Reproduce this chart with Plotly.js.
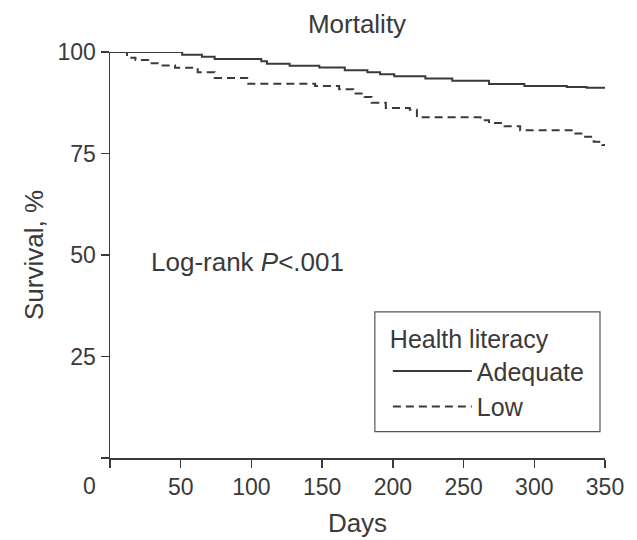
<!DOCTYPE html>
<html>
<head>
<meta charset="utf-8">
<script src="https://cdn.plot.ly/plotly-3.0.1.min.js"></script>
<style>html,body{margin:0;padding:0;background:#fff;}#chart{width:637px;height:540px;}</style>
</head>
<body>
<div id="chart"></div>
<script>
// Data (Kaplan-Meier step curves)
const adequateDays = [0, 51, 65, 74, 107, 111, 127, 148, 166, 182, 191, 201, 223, 242, 268, 293, 323, 337, 350];
const adequateSurv = [100, 99.3, 98.8, 98.3, 97.7, 97.1, 96.6, 96.2, 95.5, 95.0, 94.5, 94.0, 93.5, 92.9, 92.1, 91.6, 91.4, 91.2, 91.2];
const lowDays = [0, 12, 18, 27, 35, 46, 62, 74, 97, 145, 162, 172, 180, 185, 195, 212, 217, 262, 268, 279, 290, 329, 335, 342, 348, 350];
const lowSurv = [100, 98.6, 98.0, 97.2, 96.7, 96.1, 95.0, 93.6, 92.2, 91.6, 90.8, 89.8, 88.9, 87.5, 86.2, 85.8, 83.9, 83.2, 82.5, 81.7, 80.7, 79.9, 79.1, 77.9, 77.1, 77.1];
const seriesNames = ['Adequate', 'Low'];
const xTickVals = [0, 50, 100, 150, 200, 250, 300, 350];
const xTickText = ['', '50', '100', '150', '200', '250', '300', '350'];
const yTickVals = [0, 25, 50, 75, 100];
const yTickText = ['', '25', '50', '75', '100'];

const ink = '#3a3a3a';
const fontFam = 'Liberation Sans, Arial, sans-serif';

const traces = [
  {x: adequateDays, y: adequateSurv, name: seriesNames[0], type: 'scatter', mode: 'lines',
   line: {shape: 'hv', color: ink, width: 2}},
  {x: lowDays, y: lowSurv, name: seriesNames[1], type: 'scatter', mode: 'lines',
   line: {shape: 'hv', color: ink, width: 2, dash: '8px,5px'}}
];

const layout = {
  width: 637, height: 540,
  margin: {l: 110.3, r: 32, t: 51.7, b: 81.5},
  paper_bgcolor: '#fff', plot_bgcolor: '#fff',
  font: {family: fontFam, size: 24, color: ink},
  title: {text: 'Mortality', x: 357/637, xanchor: 'center', y: 1 - 24/540, yanchor: 'middle', yref: 'container',
          font: {family: fontFam, size: 26, color: ink}},
  xaxis: {range: [0, 350], tickmode: 'array', tickvals: xTickVals, ticktext: xTickText,
          ticks: 'outside', ticklen: 8, tickwidth: 1.5, tickcolor: ink,
          showline: true, linecolor: ink, linewidth: 1.5, showgrid: false, zeroline: false,
          tickfont: {size: 23, color: ink},
          title: {text: 'Days', font: {size: 26, color: ink}, standoff: 14}},
  yaxis: {range: [0, 100], tickmode: 'array', tickvals: yTickVals, ticktext: yTickText,
          ticks: 'outside', ticklen: 8, tickwidth: 1.5, tickcolor: ink,
          showline: true, linecolor: ink, linewidth: 1.5, showgrid: false, zeroline: false,
          tickfont: {size: 23, color: ink},
          title: {text: 'Survival, %', font: {size: 26, color: ink}, standoff: 6}},
  showlegend: true,
  legend: {x: (388 - 110.3) / 494.7, y: (458.5 - 316) / 406.8, xanchor: 'left', yanchor: 'top',
           borderwidth: 0, bgcolor: 'rgba(0,0,0,0)',
           font: {size: 25, color: ink}, itemwidth: 79,
           title: {text: 'Health literacy', font: {size: 25, color: ink}}},
  shapes: [
    {type: 'rect', xref: 'paper', yref: 'paper',
     x0: (375 - 110.3) / 494.7, x1: (600 - 110.3) / 494.7,
     y0: (458.5 - 432) / 406.8, y1: (458.5 - 312) / 406.8,
     line: {color: '#555', width: 1.2}, fillcolor: 'rgba(0,0,0,0)'}
  ],
  annotations: [
    {xref: 'paper', yref: 'paper', x: -0.041, y: -0.07, text: '0', showarrow: false,
     xanchor: 'center', yanchor: 'middle', font: {size: 23, color: ink}},
    {xref: 'paper', yref: 'paper', x: 0.078, y: 0.482, text: 'Log-rank <i>P</i><.001', showarrow: false,
     xanchor: 'left', yanchor: 'middle', font: {size: 26, color: ink}}
  ]
};

Plotly.newPlot('chart', traces, layout, {displayModeBar: false, staticPlot: true});
</script>
</body>
</html>
